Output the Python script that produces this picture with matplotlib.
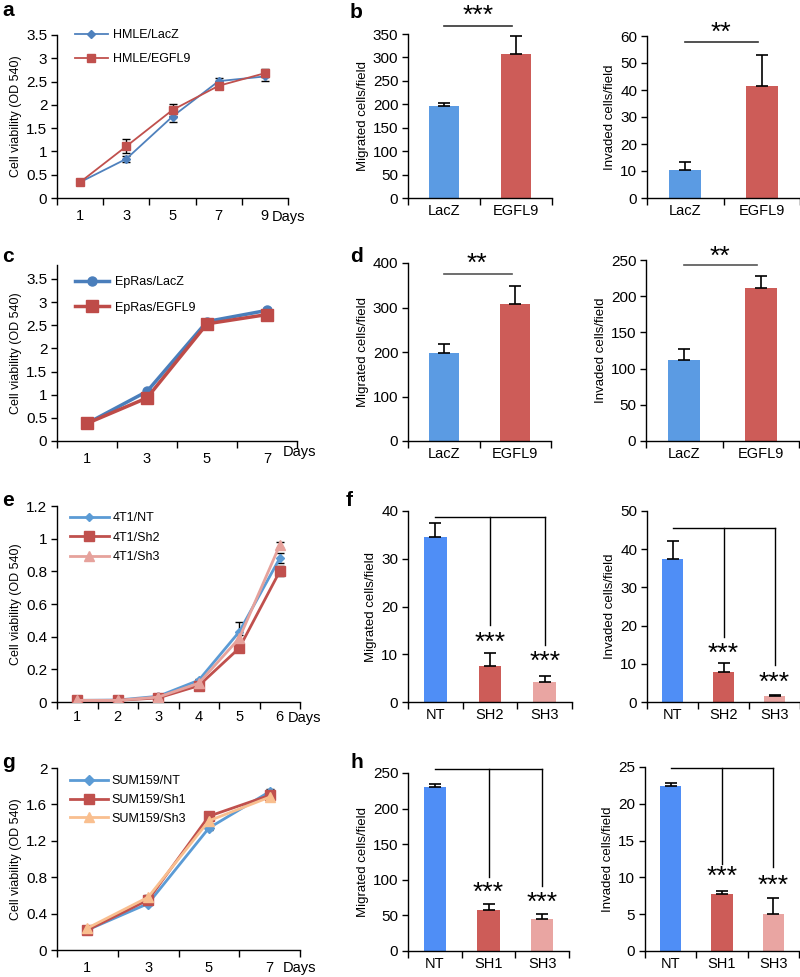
import numpy as np
import matplotlib
matplotlib.use('Agg')
import matplotlib.pyplot as plt

plt.rcParams['font.family'] = ['Liberation Sans', 'DejaVu Sans']

W, H = 800, 977

# ---- panel a: HMLE growth ----
a_days = ['1', '3', '5', '7', '9']
a_lacz = [0.34, 0.84, 1.75, 2.51, 2.61]
a_lacz_err = [0.03, 0.06, 0.11, 0.06, 0.1]
a_egfl9 = [0.34, 1.11, 1.89, 2.41, 2.68]
a_egfl9_err = [0.04, 0.15, 0.13, 0.04, 0.09]

# ---- panel b: HMLE migration / invasion ----
b_groups = ['LacZ', 'EGFL9']
b_migrated = [196, 308]
b_migrated_err = [7, 37]
b_invaded = [10.5, 41.3]
b_invaded_err = [3.0, 11.5]

# ---- panel c: EpRas growth ----
c_days = ['1', '3', '5', '7']
c_lacz = [0.38, 1.07, 2.58, 2.82]
c_lacz_err = [0.02, 0.04, 0.04, 0.05]
c_egfl9 = [0.38, 0.93, 2.53, 2.73]
c_egfl9_err = [0.02, 0.03, 0.03, 0.04]

# ---- panel d: EpRas migration / invasion ----
d_groups = ['LacZ', 'EGFL9']
d_migrated = [197, 308]
d_migrated_err = [20, 41]
d_invaded = [112, 211]
d_invaded_err = [15, 17]

# ---- panel e: 4T1 growth ----
e_days = ['1', '2', '3', '4', '5', '6']
e_nt = [0.01, 0.012, 0.035, 0.133, 0.43, 0.88]
e_nt_err = [0.003, 0.003, 0.005, 0.01, 0.06, 0.03]
e_sh2 = [0.01, 0.01, 0.025, 0.10, 0.33, 0.80]
e_sh2_err = [0.003, 0.003, 0.004, 0.01, 0.02, 0.03]
e_sh3 = [0.01, 0.01, 0.03, 0.115, 0.39, 0.96]
e_sh3_err = [0.003, 0.003, 0.004, 0.01, 0.02, 0.02]

# ---- panel f: 4T1 migration / invasion ----
f_groups = ['NT', 'SH2', 'SH3']
f_migrated = [34.5, 7.5, 4.1]
f_migrated_err = [3.0, 2.7, 1.3]
f_invaded = [37.5, 7.85, 1.5]
f_invaded_err = [4.6, 2.35, 0.4]

# ---- panel g: SUM159 growth ----
g_days = ['1', '3', '5', '7']
g_nt = [0.22, 0.51, 1.34, 1.74]
g_nt_err = [0.01, 0.02, 0.02, 0.03]
g_sh1 = [0.22, 0.55, 1.47, 1.70]
g_sh1_err = [0.01, 0.02, 0.02, 0.02]
g_sh3 = [0.24, 0.58, 1.42, 1.68]
g_sh3_err = [0.01, 0.02, 0.02, 0.02]

# ---- panel h: SUM159 migration / invasion ----
h_groups = ['NT', 'SH1', 'SH3']
h_migrated = [230, 58, 45.4]
h_migrated_err = [5, 8.5, 7]
h_invaded = [22.46, 7.8, 5.07]
h_invaded_err = [0.4, 0.35, 2.1]

BLUE_LINE = '#4F81BD'
RED_LINE = '#C0504D'
LIGHT_BLUE = '#5B9BD5'
PINK_LINE = '#E6A29C'
ORANGE_LINE = '#F9BF8F'
BAR_BLUE = '#5B9BE3'
BAR_BLUE2 = '#4F8EF6'
BAR_RED = '#CD5C58'
BAR_PINK = '#E9A5A2'

fig = plt.figure(figsize=(W / 100, H / 100), dpi=100)


def px_axes(l, r, t, b):
    return fig.add_axes([l / W, 1 - b / H, (r - l) / W, (b - t) / H])


def style(ax, n, labels, ylim, yticks, ylabel, line=True):
    for s in ['top', 'right']:
        ax.spines[s].set_visible(False)
    for s in ['left', 'bottom']:
        ax.spines[s].set_linewidth(1.0)
    ax.set_xlim(-0.5, n - 0.5)
    ax.set_ylim(*ylim)
    ax.set_yticks(yticks)
    ax.set_xticks(range(n))
    ax.set_xticklabels(labels)
    ax.set_xticks(np.arange(-0.5, n), minor=True)
    ax.tick_params(axis='x', which='major', length=0, pad=8 if line else 4, labelsize=10.5)
    ax.tick_params(axis='x', which='minor', length=5, width=1, direction='out')
    ax.tick_params(axis='y', length=4, width=1, direction='out', pad=3, labelsize=11)
    ax.set_ylabel(ylabel, fontsize=9 if line else 9.5, labelpad=3)


def legend_at(ax, x_px, top_px, spacing, hlen, pad):
    ax.legend(loc='upper left', bbox_to_anchor=(x_px / W, 1 - top_px / H),
              bbox_transform=fig.transFigure, frameon=False, fontsize=9,
              borderpad=0, borderaxespad=0, labelspacing=spacing,
              handlelength=hlen, handletextpad=pad)


def growth(ax, series, errs, colors, markers, sizes, names, lw):
    x = np.arange(len(series[0]))
    for y, e, c, m, ms, nm in zip(series, errs, colors, markers, sizes, names):
        ax.errorbar(x, y, yerr=e, fmt='none', ecolor='black', elinewidth=1, capsize=3, zorder=2)
        ax.plot(x, y, color=c, marker=m, markersize=ms, markeredgecolor=c, lw=lw, label=nm, zorder=3)


def bars(ax, vals, errs, colors, width=0.42):
    x = np.arange(len(vals))
    ax.bar(x, vals, width=width, color=colors, zorder=2)
    ax.errorbar(x, vals, yerr=[np.zeros(len(errs)), errs], fmt='none', ecolor='black',
                elinewidth=1.2, capsize=4, capthick=1.2, zorder=3)


def sig_line(ax, y, ytext, stars, color='#333333'):
    ax.plot([0, 0.95], [y, y], color=color, lw=1.2, clip_on=False)
    ax.text(0.47, ytext, stars, ha='center', va='center', fontsize=19, clip_on=False)


def bracket(ax, top, drops, star_y):
    ax.plot([0, 2], [top, top], color='black', lw=1, clip_on=False)
    for i, d in zip([1, 2], drops):
        ax.plot([i, i], [top, d], color='black', lw=1, clip_on=False)
    for i, s in zip([1, 2], star_y):
        ax.text(i, s, '***', ha='center', va='center', fontsize=19)


def days_label(x_px, y_px):
    fig.text(x_px / W, 1 - y_px / H, 'Days', fontsize=10.5, ha='left', va='center')


def panel_letter(x_px, y_px, s):
    fig.text(x_px / W, 1 - y_px / H, s, fontsize=15, fontweight='bold', ha='left', va='center')


# a
ax = px_axes(57, 288, 35, 198)
growth(ax, [a_lacz, a_egfl9], [a_lacz_err, a_egfl9_err], [BLUE_LINE, RED_LINE],
       ['D', 's'], [4, 5.5], ['HMLE/LacZ', 'HMLE/EGFL9'], 1.3)
style(ax, 5, a_days, (0, 3.5), np.arange(0, 3.51, 0.5), 'Cell viability (OD 540)')
ax.set_yticklabels(['0', '0.5', '1', '1.5', '2', '2.5', '3', '3.5'])
legend_at(ax, 75, 29, 1.0, 2.6, 0.4)
days_label(272, 217)
panel_letter(2, 10, 'a')

# b
ax = px_axes(408, 552, 34, 198)
bars(ax, b_migrated, b_migrated_err, [BAR_BLUE, BAR_RED])
style(ax, 2, b_groups, (0, 350), range(0, 351, 50), 'Migrated cells/field', line=False)
sig_line(ax, 367, 388, '***')
ax = px_axes(647, 800, 36, 198)
bars(ax, b_invaded, b_invaded_err, [BAR_BLUE, BAR_RED])
style(ax, 2, b_groups, (0, 60), range(0, 61, 10), 'Invaded cells/field', line=False)
sig_line(ax, 57.8, 61.3, '**')
panel_letter(350, 12, 'b')

# c
ax = px_axes(57, 297, 265, 441)
growth(ax, [c_lacz, c_egfl9], [c_lacz_err, c_egfl9_err], ['#4A7EBB', '#BE4B48'],
       ['o', 's'], [6.5, 8], ['EpRas/LacZ', 'EpRas/EGFL9'], 2.5)
style(ax, 4, c_days, (0, 3.8), np.arange(0, 3.51, 0.5), 'Cell viability (OD 540)')
ax.set_yticklabels(['0', '0.5', '1', '1.5', '2', '2.5', '3', '3.5'])
legend_at(ax, 75, 276, 1.1, 2.7, 0.5)
days_label(283, 452)
panel_letter(2, 257, 'c')

# d
ax = px_axes(408, 551, 263, 441)
bars(ax, d_migrated, d_migrated_err, [BAR_BLUE, BAR_RED])
style(ax, 2, d_groups, (0, 400), range(0, 401, 100), 'Migrated cells/field', line=False)
sig_line(ax, 375, 397, '**', color='#555555')
ax = px_axes(646, 799, 260, 441)
bars(ax, d_invaded, d_invaded_err, [BAR_BLUE, BAR_RED])
style(ax, 2, d_groups, (0, 250), range(0, 251, 50), 'Invaded cells/field', line=False)
sig_line(ax, 243, 255, '**', color='#555555')
panel_letter(350, 257, 'd')

# e
ax = px_axes(57, 300, 506, 702)
growth(ax, [e_nt, e_sh2, e_sh3], [e_nt_err, e_sh2_err, e_sh3_err],
       [LIGHT_BLUE, RED_LINE, PINK_LINE], ['D', 's', '^'], [4.5, 7, 7],
       ['4T1/NT', '4T1/Sh2', '4T1/Sh3'], 2.0)
style(ax, 6, e_days, (0, 1.2), np.arange(0, 1.21, 0.2), 'Cell viability (OD 540)')
ax.set_yticklabels(['0', '0.2', '0.4', '0.6', '0.8', '1', '1.2'])
ax.tick_params(axis='x', which='major', pad=6)
legend_at(ax, 70, 512, 0.62, 3.1, 0.3)
days_label(288, 718)
panel_letter(2, 501, 'e')

# f
ax = px_axes(408, 572, 511, 702)
bars(ax, f_migrated, f_migrated_err, [BAR_BLUE2, BAR_RED, BAR_PINK])
style(ax, 3, f_groups, (0, 40), range(0, 41, 10), 'Migrated cells/field', line=False)
bracket(ax, 38.7, [16.1, 12.0], [12.4, 8.5])
ax = px_axes(647, 800, 511, 702)
bars(ax, f_invaded, f_invaded_err, [BAR_BLUE2, BAR_RED, BAR_PINK])
style(ax, 3, f_groups, (0, 50), range(0, 51, 10), 'Invaded cells/field', line=False)
bracket(ax, 45.5, [17.0, 9.6], [12.7, 5.1])
panel_letter(346, 500, 'f')

# g
ax = px_axes(57, 300, 768, 950)
growth(ax, [g_nt, g_sh1, g_sh3], [g_nt_err, g_sh1_err, g_sh3_err],
       [LIGHT_BLUE, RED_LINE, ORANGE_LINE], ['D', 's', '^'], [5, 7, 7],
       ['SUM159/NT', 'SUM159/Sh1', 'SUM159/Sh3'], 2.0)
style(ax, 4, g_days, (0, 2), np.arange(0, 2.01, 0.4), 'Cell viability (OD 540)')
ax.set_yticklabels(['0', '0.4', '0.8', '1.2', '1.6', '2'])
legend_at(ax, 70, 775, 0.55, 3.0, 0.3)
days_label(283, 968)
panel_letter(2, 763, 'g')

# h
ax = px_axes(408, 569, 773, 951)
bars(ax, h_migrated, h_migrated_err, [BAR_BLUE2, BAR_RED, BAR_PINK])
style(ax, 3, h_groups, (0, 250), range(0, 251, 50), 'Migrated cells/field', line=False)
bracket(ax, 256, [104, 91], [81, 67])
ax = px_axes(645, 799, 767, 951)
bars(ax, h_invaded, h_invaded_err, [BAR_BLUE2, BAR_RED, BAR_PINK])
style(ax, 3, h_groups, (0, 25), range(0, 26, 5), 'Invaded cells/field', line=False)
bracket(ax, 24.85, [11.8, 11.4], [10.1, 8.8])
panel_letter(350, 762, 'h')

fig.savefig('out.png', dpi=100)
